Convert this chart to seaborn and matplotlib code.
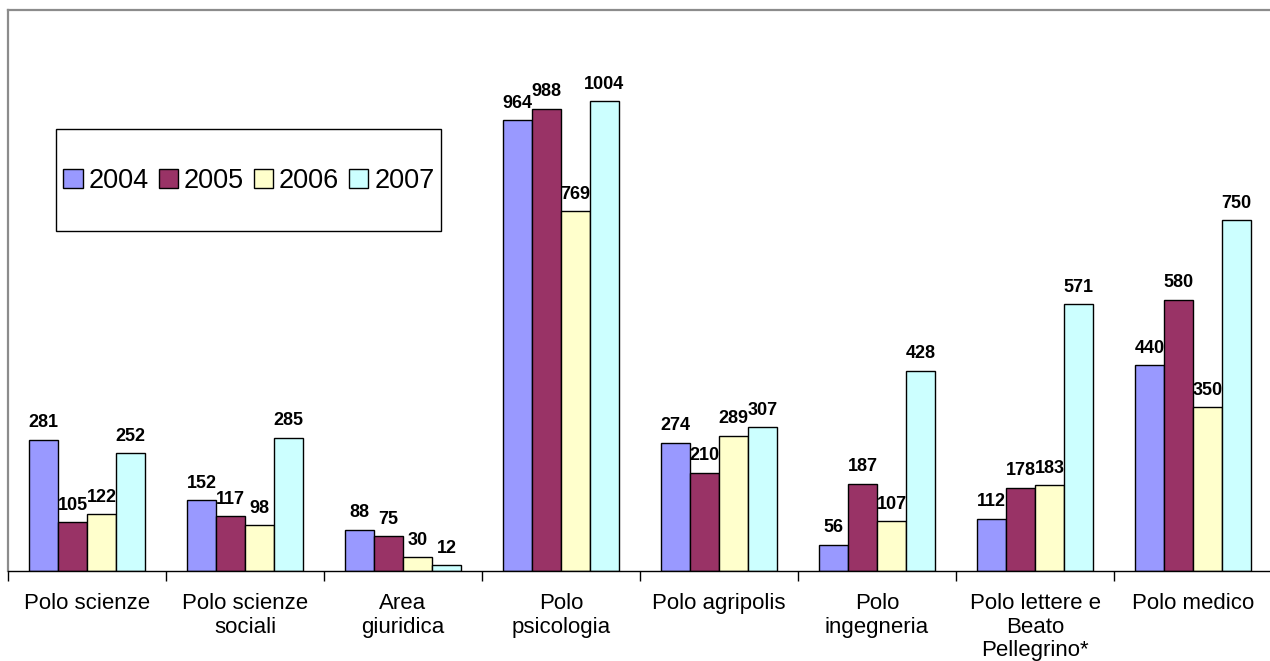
import matplotlib
matplotlib.use("Agg")
import matplotlib.pyplot as plt
from matplotlib.patches import Rectangle
import seaborn as sns
import pandas as pd

categories = [
    "Polo scienze", "Polo scienze\nsociali", "Area\ngiuridica", "Polo\npsicologia",
    "Polo agripolis", "Polo\ningegneria", "Polo lettere e\nBeato\nPellegrino*", "Polo medico",
]
years = ["2004", "2005", "2006", "2007"]
v2004 = [281, 152, 88, 964, 274, 56, 112, 440]
v2005 = [105, 117, 75, 988, 210, 187, 178, 580]
v2006 = [122, 98, 30, 769, 289, 107, 183, 350]
v2007 = [252, 285, 12, 1004, 307, 428, 571, 750]
colors = ["#9999FF", "#993366", "#FFFFCC", "#CCFFFF"]

rows = []
for year, vals in zip(years, [v2004, v2005, v2006, v2007]):
    for cat, v in zip(categories, vals):
        rows.append({"polo": cat, "anno": year, "valore": v})
df = pd.DataFrame(rows)

sns.set_theme(style="white")
plt.rcParams["font.family"] = ["Liberation Sans", "DejaVu Sans"]
plt.rcParams["text.color"] = "black"
plt.rcParams["xtick.color"] = "black"
plt.rcParams["xtick.labelcolor"] = "black"

fig = plt.figure(figsize=(12.7, 6.61), dpi=100)
ax = fig.add_axes([8 / 1270, 90 / 661, 1264 / 1270, 561 / 661])

sns.barplot(data=df, x="polo", y="valore", hue="anno", order=categories,
            hue_order=years, palette=colors, edgecolor="black", linewidth=1,
            width=0.734, gap=0, saturation=1, legend=False, ax=ax)

for cont in ax.containers:
    ax.bar_label(cont, fmt="%d", padding=6, fontsize=13, fontweight="bold",
                 color="black")

ax.set_ylim(0, 1199)
ax.set_xlim(-0.5, 7.5)
ax.set_xlabel("")
ax.set_ylabel("")
ax.set_yticks([])

# category boundaries as outward tick marks, labels centered on groups
ax.set_xticks(range(len(categories)))
ax.set_xticklabels(categories, fontsize=16, linespacing=1.15, color="black")
ax.set_xticks([i - 0.5 for i in range(len(categories) + 1)], minor=True)
ax.tick_params(axis="x", which="major", length=0, pad=16)
ax.tick_params(axis="x", which="minor", length=7, width=1, color="black",
               direction="out", bottom=True)

ax.spines["right"].set_visible(False)
ax.spines["bottom"].set_color("black")
ax.spines["bottom"].set_linewidth(1)
for s in ("left", "top"):
    ax.spines[s].set_color("#8c8c8c")
    ax.spines[s].set_linewidth(1.6)

# legend box
fig.patches.append(Rectangle((56 / 1270, (661 - 231) / 661), 385 / 1270, 102 / 661,
                             transform=fig.transFigure, facecolor="white",
                             edgecolor="black", linewidth=1, zorder=5))
handles = [Rectangle((0, 0), 1, 1, facecolor=c, edgecolor="black", linewidth=1)
           for c in colors]
leg = fig.legend(handles, years, loc="center",
                 bbox_to_anchor=(249 / 1270, (661 - 181) / 661),
                 ncol=4, frameon=False, fontsize=19.5, handlelength=0.72,
                 handleheight=0.72, handletextpad=0.22, columnspacing=0.35,
                 borderaxespad=0)
leg.set_zorder(6)

fig.savefig("out.png", dpi=100)
